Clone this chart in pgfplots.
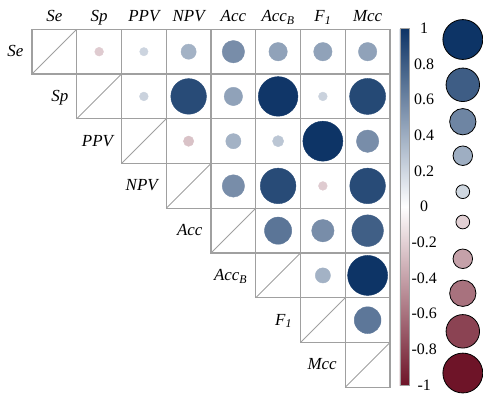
\documentclass[border=0pt]{standalone}
\usepackage{pgfplots}
\pgfplotsset{compat=1.18}
\usepackage{pgfplotstable}
\usepackage{fontspec}
\setmainfont{Liberation Serif}
\pgfplotsset{colormap={corr}{rgb255(0)=(110,20,40); rgb255(1)=(255,255,255); rgb255(2)=(13,52,102)}}
\definecolor{gridc}{RGB}{160,160,160}
\newcommand{\lab}{\fontsize{17}{17}\selectfont\itshape}
\newcommand{\tkl}{\fontsize{16}{16}\selectfont}

\pgfplotstableread{
x y v
2 1 -0.22
3 1 0.21
4 1 0.38
5 1 0.56
6 1 0.46
7 1 0.46
8 1 0.46
3 2 0.22
4 2 0.89
5 2 0.46
6 2 0.99
7 2 0.22
8 2 0.90
4 3 -0.26
5 3 0.38
6 3 0.28
7 3 1.00
8 3 0.56
5 4 0.56
6 4 0.89
7 4 -0.22
8 4 0.89
6 5 0.68
7 5 0.56
8 5 0.79
7 6 0.38
8 6 1.00
8 7 0.67
}\corrdata

\pgfplotstableread{
x y v r
10.127 0.728 1.0 20
10.127 1.740 0.8 16.8
10.127 2.565 0.6 13.2
10.127 3.325 0.4 9.8
10.127 4.129 0.2 6.9
10.127 4.806 -0.2 6.9
10.127 5.628 -0.4 9.8
10.127 6.399 -0.6 13.2
10.127 7.249 -0.8 16.8
10.127 8.181 -1.0 20
}\legdata

\begin{document}
\begin{tikzpicture}
\path[use as bounding box] (0,0) rectangle (483bp,398bp);
\begin{axis}[
  at={(32bp,10.7bp)}, anchor=south west,
  scale only axis, width=358bp, height=358bp,
  xmin=0.5, xmax=8.5, ymin=0.5, ymax=8.5, y dir=reverse,
  hide axis, clip=false,
  colormap name=corr, point meta min=-1, point meta max=1,
  colorbar,
  colorbar style={
    at={(parent axis.north east)}, anchor=north west,
    xshift=1.3bp, yshift=1bp,
    width=9.4bp, height=356.7bp,
    ytick={-1,-0.8,-0.6,-0.4,-0.2,0,0.2,0.4,0.6,0.8,1},
    yticklabels={-1,-0.8,-0.6,-0.4,-0.2,0,0.2,0.4,0.6,0.8,1},
    major tick length=0pt,
    yticklabel style={anchor=center, xshift=15bp, font=\tkl},
    axis line style={gridc, line width=0.6bp},
  },
]
% grid
\begin{scope}[gridc, line width=1.2bp, line cap=rect]
\draw (axis cs:0.5,0.5) -- (axis cs:8.5,0.5);
\draw (axis cs:0.5,1.5) -- (axis cs:8.5,1.5);
\draw (axis cs:1.5,2.5) -- (axis cs:8.5,2.5);
\draw (axis cs:2.5,3.5) -- (axis cs:8.5,3.5);
\draw (axis cs:3.5,4.5) -- (axis cs:8.5,4.5);
\draw (axis cs:4.5,5.5) -- (axis cs:8.5,5.5);
\draw (axis cs:5.5,6.5) -- (axis cs:8.5,6.5);
\draw (axis cs:6.5,7.5) -- (axis cs:8.5,7.5);
\draw (axis cs:7.5,8.5) -- (axis cs:8.5,8.5);
\draw (axis cs:0.5,0.5) -- (axis cs:0.5,1.5);
\draw (axis cs:1.5,0.5) -- (axis cs:1.5,2.5);
\draw (axis cs:2.5,0.5) -- (axis cs:2.5,3.5);
\draw (axis cs:3.5,0.5) -- (axis cs:3.5,4.5);
\draw (axis cs:4.5,0.5) -- (axis cs:4.5,5.5);
\draw (axis cs:5.5,0.5) -- (axis cs:5.5,6.5);
\draw (axis cs:6.5,0.5) -- (axis cs:6.5,7.5);
\draw (axis cs:7.5,0.5) -- (axis cs:7.5,8.5);
\draw (axis cs:8.5,0.5) -- (axis cs:8.5,8.5);
\end{scope}
\begin{scope}[gridc, line width=0.8bp]
\draw (axis cs:0.5,1.5) -- (axis cs:1.5,0.5);
\draw (axis cs:1.5,2.5) -- (axis cs:2.5,1.5);
\draw (axis cs:2.5,3.5) -- (axis cs:3.5,2.5);
\draw (axis cs:3.5,4.5) -- (axis cs:4.5,3.5);
\draw (axis cs:4.5,5.5) -- (axis cs:5.5,4.5);
\draw (axis cs:5.5,6.5) -- (axis cs:6.5,5.5);
\draw (axis cs:6.5,7.5) -- (axis cs:7.5,6.5);
\draw (axis cs:7.5,8.5) -- (axis cs:8.5,7.5);
\end{scope}

\addplot[scatter, only marks, mark=*, point meta=\thisrow{v},
  scatter/use mapped color={draw=mapped color, fill=mapped color},
  visualization depends on={20.07*abs(\thisrow{v}) \as \rad},
  scatter/@pre marker code/.append style={/tikz/mark size=\rad}]
  table[x=x, y=y] {\corrdata};

\addplot[scatter, only marks, mark=*, point meta=\thisrow{v},
  line width=0.8bp,
  scatter/use mapped color={draw=black, fill=mapped color},
  visualization depends on={\thisrow{r} \as \rr},
  scatter/@pre marker code/.append style={/tikz/mark size=\rr}]
  table[x=x, y=y] {\legdata};

% column labels
\node[anchor=base, yshift=7.6bp, font=\lab] at (axis cs:1,0.5) {Se};
\node[anchor=base, yshift=7.6bp, font=\lab] at (axis cs:2,0.5) {Sp};
\node[anchor=base, yshift=7.6bp, font=\lab] at (axis cs:3,0.5) {PPV};
\node[anchor=base, yshift=7.6bp, font=\lab] at (axis cs:4,0.5) {NPV};
\node[anchor=base, yshift=7.6bp, font=\lab] at (axis cs:5,0.5) {Acc};
\node[anchor=base, yshift=7.6bp, font=\lab] at (axis cs:6,0.5) {Acc\textsubscript{B}};
\node[anchor=base, yshift=7.6bp, font=\lab] at (axis cs:7,0.5) {F\textsubscript{1}};
\node[anchor=base, yshift=7.6bp, font=\lab] at (axis cs:8,0.5) {Mcc};
% row labels
\node[anchor=base east, xshift=-5bp, yshift=-5bp, font=\lab] at (axis cs:0.5,1) {Se};
\node[anchor=base east, xshift=-5bp, yshift=-5bp, font=\lab] at (axis cs:1.5,2) {Sp};
\node[anchor=base east, xshift=-5bp, yshift=-5bp, font=\lab] at (axis cs:2.5,3) {PPV};
\node[anchor=base east, xshift=-5bp, yshift=-5bp, font=\lab] at (axis cs:3.5,4) {NPV};
\node[anchor=base east, xshift=-5bp, yshift=-5bp, font=\lab] at (axis cs:4.5,5) {Acc};
\node[anchor=base east, xshift=-5bp, yshift=-5bp, font=\lab] at (axis cs:5.5,6) {Acc\textsubscript{B}};
\node[anchor=base east, xshift=-5bp, yshift=-5bp, font=\lab] at (axis cs:6.5,7) {F\textsubscript{1}};
\node[anchor=base east, xshift=-5bp, yshift=-5bp, font=\lab] at (axis cs:7.5,8) {Mcc};
\end{axis}
\end{tikzpicture}
\end{document}
